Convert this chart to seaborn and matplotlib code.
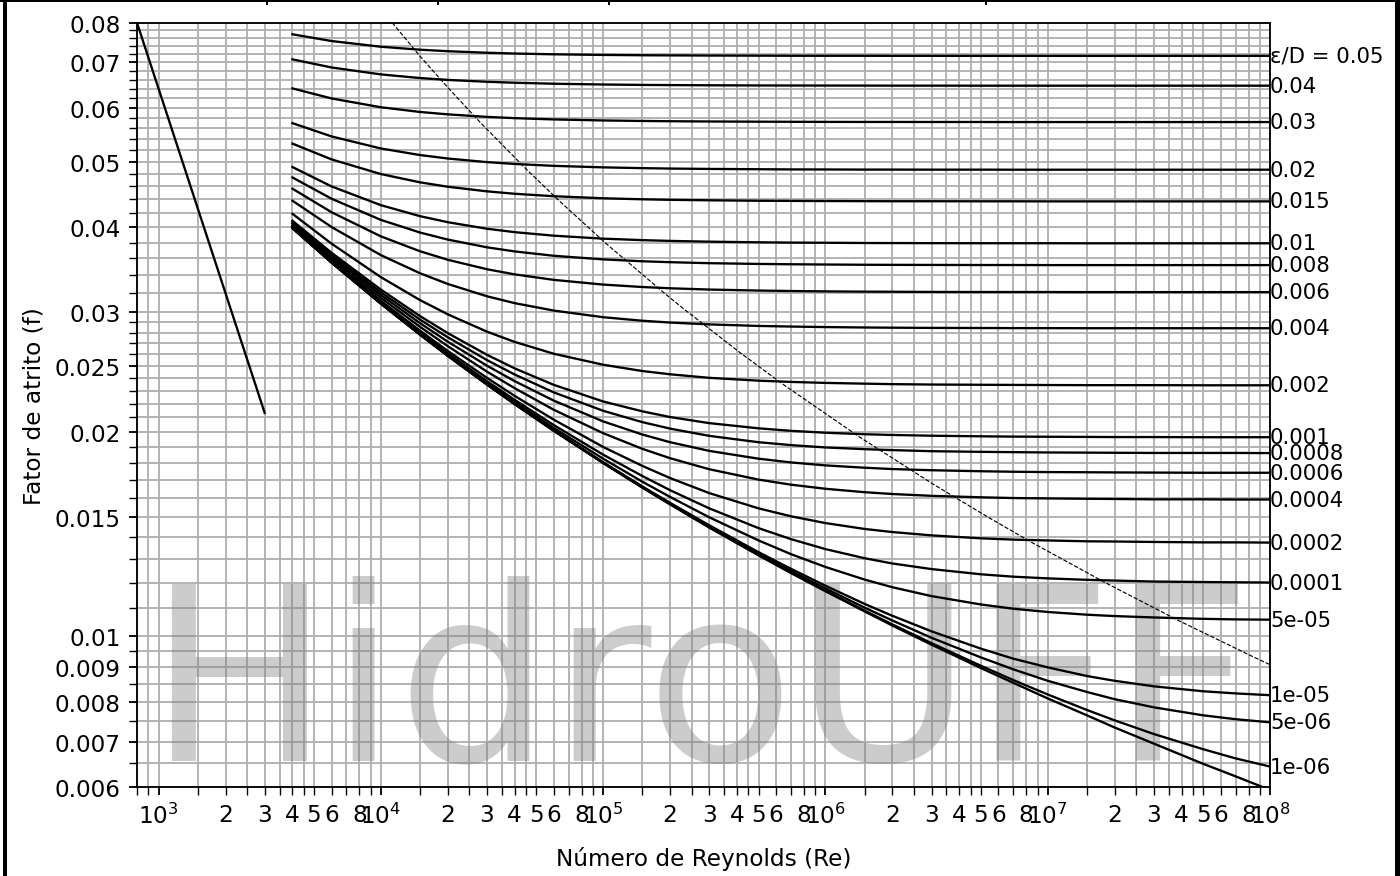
import numpy as np
import pandas as pd
import seaborn as sns
import matplotlib.pyplot as plt
from matplotlib.ticker import LogLocator, FuncFormatter, NullFormatter, FixedLocator
from matplotlib.patches import Rectangle

re_pts = [4e3, 6e3, 1e4, 1.5e4, 2e4, 3e4, 4e4, 6e4, 1e5, 1.5e5, 2e5, 3e5, 5e5, 7e5,
          1e6, 1.5e6, 2e6, 3e6, 5e6, 7e6, 1e7, 1.5e7, 2e7, 3e7, 5e7, 7e7, 1e8]

# friction factor for each relative roughness (eps/D)
f_0p05 = [0.07698, 0.07524, 0.07380, 0.07306, 0.07269, 0.07231, 0.07212, 0.07193, 0.07178, 0.07170, 0.07167, 0.07163, 0.07160, 0.07158,
          0.07157, 0.07157, 0.07156, 0.07156, 0.07155, 0.07155, 0.07155, 0.07155, 0.07155, 0.07155, 0.07155, 0.07155, 0.07155]
f_0p04 = [0.07071, 0.06879, 0.06719, 0.06637, 0.06595, 0.06553, 0.06532, 0.06510, 0.06493, 0.06484, 0.06480, 0.06476, 0.06472, 0.06471,
          0.06470, 0.06469, 0.06468, 0.06468, 0.06467, 0.06467, 0.06467, 0.06467, 0.06467, 0.06467, 0.06467, 0.06467, 0.06467]
f_0p03 = [0.06408, 0.06193, 0.06011, 0.05916, 0.05868, 0.05818, 0.05793, 0.05768, 0.05748, 0.05738, 0.05733, 0.05728, 0.05724, 0.05722,
          0.05720, 0.05719, 0.05719, 0.05718, 0.05718, 0.05717, 0.05717, 0.05717, 0.05717, 0.05717, 0.05717, 0.05717, 0.05717]
f_0p02 = [0.05696, 0.05445, 0.05227, 0.05112, 0.05052, 0.04991, 0.04960, 0.04928, 0.04903, 0.04890, 0.04883, 0.04877, 0.04872, 0.04869,
          0.04868, 0.04866, 0.04866, 0.04865, 0.04865, 0.04864, 0.04864, 0.04864, 0.04864, 0.04864, 0.04864, 0.04864, 0.04864]
f_0p015 = [0.05314, 0.05037, 0.04793, 0.04660, 0.04591, 0.04520, 0.04483, 0.04446, 0.04415, 0.04400, 0.04392, 0.04385, 0.04378, 0.04376,
           0.04374, 0.04372, 0.04371, 0.04371, 0.04370, 0.04370, 0.04369, 0.04369, 0.04369, 0.04369, 0.04369, 0.04369, 0.04369]
f_0p01 = [0.04908, 0.04596, 0.04313, 0.04155, 0.04071, 0.03982, 0.03936, 0.03889, 0.03850, 0.03831, 0.03821, 0.03811, 0.03803, 0.03799,
          0.03797, 0.03794, 0.03793, 0.03792, 0.03791, 0.03791, 0.03791, 0.03790, 0.03790, 0.03790, 0.03790, 0.03790, 0.03790]
f_0p008 = [0.04738, 0.04408, 0.04103, 0.03931, 0.03838, 0.03739, 0.03687, 0.03633, 0.03589, 0.03566, 0.03555, 0.03543, 0.03534, 0.03530,
           0.03527, 0.03524, 0.03523, 0.03522, 0.03521, 0.03521, 0.03520, 0.03520, 0.03520, 0.03520, 0.03520, 0.03520, 0.03520]
f_0p006 = [0.04561, 0.04211, 0.03880, 0.03689, 0.03584, 0.03471, 0.03411, 0.03348, 0.03295, 0.03268, 0.03254, 0.03240, 0.03229, 0.03224,
           0.03220, 0.03217, 0.03216, 0.03214, 0.03213, 0.03213, 0.03213, 0.03212, 0.03212, 0.03212, 0.03212, 0.03212, 0.03212]
f_0p004 = [0.04379, 0.04005, 0.03641, 0.03424, 0.03302, 0.03167, 0.03094, 0.03017, 0.02950, 0.02915, 0.02897, 0.02879, 0.02864, 0.02858,
           0.02853, 0.02849, 0.02847, 0.02845, 0.02844, 0.02843, 0.02843, 0.02842, 0.02842, 0.02842, 0.02842, 0.02842, 0.02842]
f_0p002 = [0.04189, 0.03785, 0.03379, 0.03126, 0.02979, 0.02809, 0.02713, 0.02606, 0.02511, 0.02458, 0.02431, 0.02402, 0.02379, 0.02369,
           0.02361, 0.02355, 0.02351, 0.02348, 0.02346, 0.02345, 0.02344, 0.02343, 0.02343, 0.02343, 0.02342, 0.02342, 0.02342]
f_0p001 = [0.04091, 0.03670, 0.03239, 0.02961, 0.02795, 0.02597, 0.02480, 0.02345, 0.02217, 0.02144, 0.02103, 0.02060, 0.02024, 0.02007,
           0.01994, 0.01984, 0.01979, 0.01974, 0.01970, 0.01968, 0.01967, 0.01966, 0.01965, 0.01965, 0.01964, 0.01964, 0.01964]
f_8em4 = [0.04071, 0.03647, 0.03209, 0.02926, 0.02756, 0.02551, 0.02429, 0.02286, 0.02148, 0.02067, 0.02022, 0.01973, 0.01931, 0.01912,
          0.01897, 0.01886, 0.01880, 0.01873, 0.01869, 0.01867, 0.01865, 0.01864, 0.01863, 0.01862, 0.01862, 0.01862, 0.01861]
f_6em4 = [0.04052, 0.03623, 0.03180, 0.02891, 0.02715, 0.02503, 0.02375, 0.02223, 0.02072, 0.01982, 0.01931, 0.01875, 0.01826, 0.01803,
          0.01785, 0.01771, 0.01763, 0.01756, 0.01750, 0.01747, 0.01745, 0.01744, 0.01743, 0.01742, 0.01741, 0.01741, 0.01741]
f_4em4 = [0.04031, 0.03598, 0.03150, 0.02855, 0.02674, 0.02453, 0.02319, 0.02155, 0.01991, 0.01888, 0.01829, 0.01762, 0.01701, 0.01672,
          0.01649, 0.01630, 0.01620, 0.01610, 0.01602, 0.01598, 0.01596, 0.01594, 0.01593, 0.01591, 0.01591, 0.01590, 0.01590]
f_2em4 = [0.04010, 0.03575, 0.03119, 0.02818, 0.02631, 0.02402, 0.02259, 0.02084, 0.01900, 0.01782, 0.01710, 0.01625, 0.01543, 0.01502,
          0.01468, 0.01439, 0.01424, 0.01408, 0.01394, 0.01388, 0.01384, 0.01380, 0.01379, 0.01377, 0.01375, 0.01375, 0.01374]
f_1em4 = [0.04001, 0.03563, 0.03104, 0.02800, 0.02610, 0.02375, 0.02229, 0.02046, 0.01851, 0.01722, 0.01641, 0.01543, 0.01443, 0.01390,
          0.01344, 0.01303, 0.01280, 0.01256, 0.01234, 0.01224, 0.01217, 0.01211, 0.01208, 0.01204, 0.01202, 0.01201, 0.01200]
f_5em5 = [0.03996, 0.03556, 0.03096, 0.02790, 0.02599, 0.02362, 0.02213, 0.02026, 0.01826, 0.01689, 0.01604, 0.01497, 0.01384, 0.01321,
          0.01265, 0.01212, 0.01181, 0.01146, 0.01114, 0.01098, 0.01086, 0.01076, 0.01071, 0.01066, 0.01061, 0.01059, 0.01058]
f_1em5 = [0.03992, 0.03551, 0.03090, 0.02783, 0.02591, 0.02351, 0.02200, 0.02010, 0.01804, 0.01662, 0.01572, 0.01457, 0.01330, 0.01257,
          0.01187, 0.01116, 0.01072, 0.01017, 0.00959, 0.00927, 0.00900, 0.00874, 0.00860, 0.00844, 0.00830, 0.00824, 0.00819]
f_5em6 = [0.03991, 0.03551, 0.03089, 0.02782, 0.02589, 0.02350, 0.02199, 0.02009, 0.01802, 0.01659, 0.01568, 0.01452, 0.01323, 0.01248,
          0.01176, 0.01102, 0.01055, 0.00995, 0.00931, 0.00894, 0.00860, 0.00828, 0.00808, 0.00786, 0.00765, 0.00755, 0.00747]
f_1em6 = [0.03991, 0.03551, 0.03089, 0.02781, 0.02588, 0.02348, 0.02197, 0.02007, 0.01800, 0.01656, 0.01565, 0.01447, 0.01317, 0.01241,
          0.01167, 0.01091, 0.01041, 0.00977, 0.00905, 0.00862, 0.00821, 0.00779, 0.00752, 0.00718, 0.00682, 0.00661, 0.00643]
f_liso = [0.03991, 0.03551, 0.03089, 0.02781, 0.02588, 0.02348, 0.02197, 0.02007, 0.01799, 0.01656, 0.01564, 0.01446, 0.01316, 0.01239,
          0.01165, 0.01088, 0.01037, 0.00972, 0.00898, 0.00854, 0.00810, 0.00765, 0.00734, 0.00695, 0.00649, 0.00622, 0.00594]

curve_labels = ["ε/D = 0.05", "0.04", "0.03", "0.02", "0.015", "0.01", "0.008", "0.006",
                "0.004", "0.002", "0.001", "0.0008", "0.0006", "0.0004", "0.0002", "0.0001",
                "5e-05", "1e-05", "5e-06", "1e-06"]

# laminar line
lam_re = [800, 3000]
lam_f = [0.08, 0.02133]

# dashed line (start of complete turbulence)
dash_re = [8326, 14954, 19661, 27881, 45343, 63789, 102728, 186003, 229538, 412144, 653434,
           1427280, 3095380, 5454800, 8534340, 18272800, 38953800, 82724000, 105343000]
dash_f = [0.09017, 0.07155, 0.06467, 0.05717, 0.04864, 0.04369, 0.03790, 0.03212, 0.03037, 0.02617, 0.02342,
          0.01964, 0.01670, 0.01494, 0.01373, 0.01198, 0.01054, 0.00935, 0.00901]

y_major = [0.006, 0.007, 0.008, 0.009, 0.01, 0.015, 0.02, 0.025, 0.03, 0.04, 0.05, 0.06, 0.07, 0.08]
y_major_lbl = ["0.006", "0.007", "0.008", "0.009", "0.01", "0.015", "0.02", "0.025", "0.03",
               "0.04", "0.05", "0.06", "0.07", "0.08"]
y_minor = [0.0065, 0.0075, 0.0085, 0.0095, 0.011, 0.012, 0.013, 0.014, 0.016, 0.017, 0.018, 0.019,
           0.021, 0.022, 0.023, 0.024, 0.026, 0.027, 0.028, 0.029, 0.032, 0.034, 0.036, 0.038,
           0.042, 0.044, 0.046, 0.048, 0.052, 0.054, 0.056, 0.058, 0.062, 0.064, 0.066, 0.068,
           0.072, 0.074, 0.076, 0.078]

curves = [f_0p05, f_0p04, f_0p03, f_0p02, f_0p015, f_0p01, f_0p008, f_0p006, f_0p004, f_0p002,
          f_0p001, f_8em4, f_6em4, f_4em4, f_2em4, f_1em4, f_5em5, f_1em5, f_5em6, f_1em6, f_liso]
names = curve_labels + ["liso"]

rows = []
for name, fs in zip(names, curves):
    if len(fs) != len(re_pts):
        raise ValueError("curve %s has %d points" % (name, len(fs)))
    for re, f in zip(re_pts, fs):
        rows.append((name, re, f))
df = pd.DataFrame(rows, columns=["curva", "Re", "f"])

DPI = 500 / 3
fig = plt.figure(figsize=(8.4, 5.262), dpi=DPI)
ax = fig.add_axes([0.0979, 0.1015, 0.8093, 0.8712])
ax.set_xscale("log")
ax.set_yscale("log")

sns.lineplot(data=df, x="Re", y="f", hue="curva", palette={n: "k" for n in names},
             legend=False, lw=1.0, estimator=None, ax=ax)
sns.lineplot(x=lam_re, y=lam_f, color="k", lw=1.0, ax=ax)
sns.lineplot(x=dash_re, y=dash_f, color="k", lw=0.5, linestyle="--", ax=ax)

ax.set_xlim(800, 1e8)
ax.set_ylim(0.006, 0.08)


def minor_fmt(x, pos):
    if x < 999:
        return ""
    m = round(x / 10 ** np.floor(np.log10(x) + 1e-9), 1)
    return str(int(m)) if m in (2, 3, 4, 5, 6, 8) else ""


ax.xaxis.set_major_locator(FixedLocator([1e3, 1e4, 1e5, 1e6, 1e7, 1e8]))
ax.xaxis.set_minor_locator(LogLocator(base=10, subs=(1.5, 2, 2.5, 3, 3.5, 4, 4.5, 5, 6, 7, 8, 9), numticks=100))
ax.xaxis.set_minor_formatter(FuncFormatter(minor_fmt))
ax.set_yticks(y_major, labels=y_major_lbl)
ax.set_yticks(y_minor, minor=True)
ax.yaxis.set_minor_formatter(NullFormatter())
ax.tick_params(which="minor", length=3.5)

ax.grid(True, which="both", color="#b0b0b0", lw=0.8)
ax.set_xlabel("Número de Reynolds (Re)", labelpad=7.5)
ax.set_ylabel("Fator de atrito (f)")

for name, fs in zip(curve_labels, curves):
    ax.text(1e8, fs[-1], name, ha="left", va="center", fontsize=9.2)

# watermark
ax.text(0.105, 0.1334, "HidroUFF", transform=fig.transFigure, fontsize=105, color="gray",
        alpha=0.4, zorder=1.8, ha="left", va="baseline")

# frame of the page around the figure
W, H = 1400, 877
for (x0, y0, w, h) in [(3, 0, 4, H), (0, H - 3, W, 3), (1395, 0, 5, H),
                       (266, H - 6, 2, 6), (437, H - 6, 2, 6), (608, H - 6, 2, 6), (985, H - 6, 2, 6)]:
    fig.add_artist(Rectangle((x0 / W, y0 / H), w / W, h / H, transform=fig.transFigure,
                             color="k", lw=0))

fig.savefig("out.png", dpi=DPI)
